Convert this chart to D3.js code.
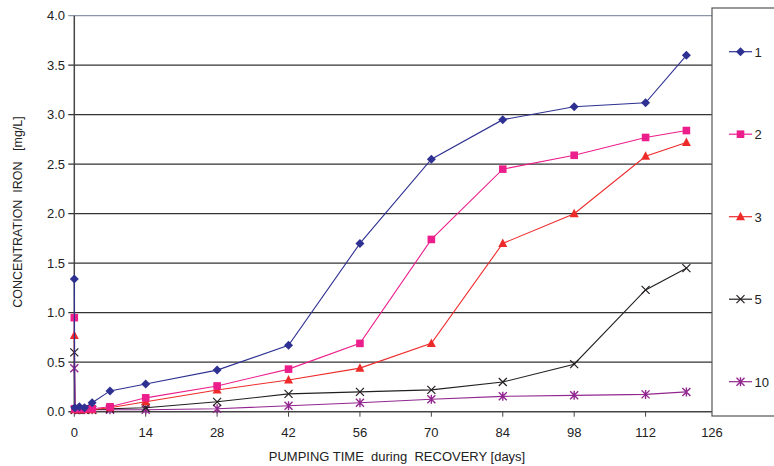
<!DOCTYPE html>
<html>
<head>
<meta charset="utf-8">
<script src="https://cdn.jsdelivr.net/npm/d3@7"></script>
<style>
  body { margin: 0; background: #fff; }
  text { font-family: "Liberation Sans", Arial, sans-serif; fill: #222; }
  .title { white-space: pre; }
</style>
</head>
<body>
<div id="chart"></div>
<script>
// pumping days
const days = [0, 0.1, 1, 2, 3.5, 7, 14, 28, 42, 56, 70, 84, 98, 112, 120];
const series1 = [1.34, 0.04, 0.05, 0.04, 0.09, 0.21, 0.28, 0.42, 0.67, 1.70, 2.55, 2.95, 3.08, 3.12, 3.60];
const series2 = [0.95, 0.03, 0.03, 0.03, 0.03, 0.05, 0.14, 0.26, 0.43, 0.69, 1.74, 2.45, 2.59, 2.77, 2.84];
const series3 = [0.77, 0.02, 0.02, 0.02, 0.02, 0.04, 0.10, 0.22, 0.32, 0.44, 0.69, 1.70, 2.00, 2.58, 2.72];
const series5 = [0.60, 0.02, 0.02, 0.02, 0.02, 0.03, 0.04, 0.10, 0.18, 0.20, 0.22, 0.30, 0.48, 1.23, 1.45];
const series10 = [0.44, 0.02, 0.02, 0.02, 0.02, 0.02, 0.02, 0.03, 0.06, 0.09, 0.125, 0.155, 0.165, 0.175, 0.20];
const names = ["1", "2", "3", "5", "10"];
const xTicks = [0, 14, 28, 42, 56, 70, 84, 98, 112, 126];
const yTicks = [0, 0.5, 1, 1.5, 2, 2.5, 3, 3.5, 4];

const width = 774, height = 466;
const allSeries = [series1, series2, series3, series5, series10];
const colors = ["#2e3192", "#ec1e8c", "#ee2b2b", "#231f20", "#92278f"];
const shapes = ["diamond", "square", "triangle", "x", "star"];

const svg = d3.select("#chart").append("svg")
    .attr("width", width).attr("height", height);

const x = d3.scaleLinear().domain([0, 126]).range([74.3, 717]);
const y = d3.scaleLinear().domain([0, 4]).range([411.7, 15.7]);
const plotRight = 712;

// gridlines
svg.append("g").selectAll("line")
    .data(yTicks.filter(d => d > 0))
    .enter().append("line")
    .attr("x1", x(0) - 6).attr("x2", plotRight)
    .attr("y1", d => y(d)).attr("y2", d => y(d))
    .attr("stroke", d => d == 4 ? "#8a96a8" : "#333")
    .attr("stroke-width", 1.3);

// y axis
svg.append("line")
    .attr("x1", x(0)).attr("x2", x(0))
    .attr("y1", y(4)).attr("y2", y(0))
    .attr("stroke", "#444").attr("stroke-width", 1.5);
svg.append("g").selectAll("text")
    .data(yTicks)
    .enter().append("text")
    .attr("x", 65).attr("y", d => y(d) + 4.5)
    .attr("text-anchor", "end")
    .attr("font-size", 13)
    .text(d => d.toFixed(1));

// x axis
svg.append("line")
    .attr("x1", x(0) - 6).attr("x2", plotRight)
    .attr("y1", y(0)).attr("y2", y(0))
    .attr("stroke", "#444").attr("stroke-width", 1.5);
svg.append("g").selectAll("line")
    .data(xTicks.filter(d => d < 126))
    .enter().append("line")
    .attr("x1", d => x(d)).attr("x2", d => x(d))
    .attr("y1", y(0)).attr("y2", y(0) + 5)
    .attr("stroke", "#444");
svg.append("g").selectAll("text")
    .data(xTicks)
    .enter().append("text")
    .attr("x", d => d == 126 ? plotRight : x(d)).attr("y", 437)
    .attr("text-anchor", "middle")
    .attr("font-size", 13)
    .text(d => d);

// axis titles
svg.append("text")
    .attr("class", "title")
    .attr("x", 397).attr("y", 461)
    .attr("text-anchor", "middle")
    .attr("font-size", 13)
    .text("PUMPING TIME  during  RECOVERY [days]");
svg.append("text")
    .attr("class", "title")
    .attr("transform", "translate(22,212) rotate(-90)")
    .attr("text-anchor", "middle")
    .attr("font-size", 12.5)
    .text("CONCENTRATION  IRON   [mg/L]");

function drawMarker(g, shape, color) {
    if (shape == "diamond") {
        g.append("path").attr("d", "M0,-4.5L4.5,0L0,4.5L-4.5,0Z").attr("fill", color);
    } else if (shape == "square") {
        g.append("rect").attr("x", -3.8).attr("y", -3.8).attr("width", 7.6).attr("height", 7.6).attr("fill", color);
    } else if (shape == "triangle") {
        g.append("path").attr("d", "M0,-5L4.5,3.5L-4.5,3.5Z").attr("fill", color);
    } else if (shape == "x") {
        g.append("path").attr("d", "M-4,-4L4,4M-4,4L4,-4").attr("stroke", color).attr("stroke-width", 1.2).attr("fill", "none");
    } else {
        g.append("path").attr("d", "M-4,-4L4,4M-4,4L4,-4M0,-4.5L0,4.5").attr("stroke", color).attr("stroke-width", 1.4).attr("fill", "none");
    }
}

const line = d3.line()
    .x((d, i) => x(days[i]))
    .y(d => y(d));

// draw series, last series first so series 1 sits on top
for (let s = allSeries.length - 1; s >= 0; s--) {
    const g = svg.append("g");
    g.append("path")
        .datum(allSeries[s])
        .attr("d", line)
        .attr("fill", "none")
        .attr("stroke", colors[s])
        .attr("stroke-width", 1.1);
    g.selectAll(".pt")
        .data(allSeries[s])
        .enter().append("g")
        .attr("class", "pt")
        .attr("transform", (d, i) => `translate(${x(days[i])},${y(d)})`)
        .each(function() { drawMarker(d3.select(this), shapes[s], colors[s]); });
}

// legend
svg.append("rect")
    .attr("x", 712).attr("y", 8)
    .attr("width", 70).attr("height", 408)
    .attr("fill", "none")
    .attr("stroke", "#555").attr("stroke-width", 1.2);

const legend = svg.selectAll(".leg")
    .data(names)
    .enter().append("g")
    .attr("class", "leg")
    .attr("transform", (d, i) => `translate(740.5,${51.7 + i * 82.5})`);
legend.append("line")
    .attr("x1", -11.5).attr("x2", 11.5)
    .attr("stroke", (d, i) => colors[i]).attr("stroke-width", 1.2);
legend.each(function(d, i) { drawMarker(d3.select(this), shapes[i], colors[i]); });
legend.append("text")
    .attr("x", 14).attr("y", 5)
    .attr("font-size", 13)
    .text(d => d);
</script>
</body>
</html>
